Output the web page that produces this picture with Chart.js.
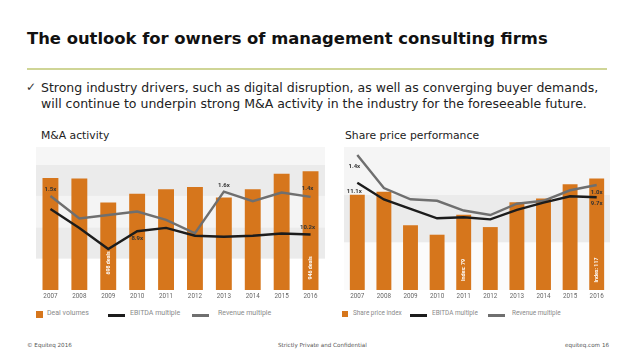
<!DOCTYPE html>
<html><head><meta charset="utf-8">
<script src="https://cdn.jsdelivr.net/npm/chart.js@4"></script>
<style>
html,body{margin:0;padding:0;}
body{width:638px;height:359px;background:#fff;position:relative;overflow:hidden;font-family:"DejaVu Sans",Verdana,sans-serif;}
.abs{position:absolute;white-space:nowrap;}
#title{left:27px;top:29px;font-weight:bold;font-size:16.4px;color:#111;}
#rule{left:27px;top:68px;width:580px;height:2px;background:#cfd596;}
.bullet{font-size:12.5px;color:#222;left:41px;}
#check{left:26px;top:80px;font-size:12px;color:#333;}
.sub{font-size:10.8px;color:#222;top:129px;}
.leg{font-family:Roboto,sans-serif;color:#8a8a8a;top:309px;}
.sq{position:absolute;background:#d6761c;}
.ln{position:absolute;height:2.5px;}
.foot{font-size:5.6px;color:#555;top:342px;}
</style></head>
<body>
<div class="abs" id="title">The outlook for owners of management consulting firms</div>
<div class="abs" id="rule"></div>
<div class="abs" id="check">✓</div>
<div class="abs bullet" style="top:80px">Strong industry drivers, such as digital disruption, as well as converging buyer demands,</div>
<div class="abs bullet" style="top:96px">will continue to underpin strong M&amp;A activity in the industry for the foreseeable future.</div>
<div class="abs sub" style="left:41px">M&amp;A activity</div>
<div class="abs sub" style="left:345px">Share price performance</div>

<div class="abs" style="left:36px;top:147px;"><canvas id="c1" width="289" height="155"></canvas></div>
<div class="abs" style="left:344px;top:147px;"><canvas id="c2" width="266" height="155"></canvas></div>

<div class="abs leg" style="left:0;width:638px;height:12px;">
  <div class="sq" style="left:36px;top:2px;width:7px;height:7px;"></div>
  <div class="abs" style="left:47px;top:0;font-size:7px;">Deal volumes</div>
  <div class="ln" style="left:108px;top:5px;width:17px;background:#1c1c1c;"></div>
  <div class="abs" style="left:130px;top:0;font-size:7px;">EBITDA multiple</div>
  <div class="ln" style="left:192px;top:5px;width:17px;background:#6f6f6f;"></div>
  <div class="abs" style="left:218px;top:0;font-size:7px;">Revenue multiple</div>

  <div class="sq" style="left:342px;top:2px;width:6px;height:6px;"></div>
  <div class="abs" style="left:353px;top:0;font-size:6.4px;">Share price index</div>
  <div class="ln" style="left:410px;top:5px;width:17px;background:#1c1c1c;"></div>
  <div class="abs" style="left:432px;top:0;font-size:6.4px;">EBITDA multiple</div>
  <div class="ln" style="left:488px;top:5px;width:17px;background:#6f6f6f;"></div>
  <div class="abs" style="left:512px;top:0;font-size:6.4px;">Revenue multiple</div>
</div>

<div class="abs foot" style="left:27px;">© Equiteq 2016</div>
<div class="abs foot" style="left:278px;">Strictly Private and Confidential</div>
<div class="abs foot" style="left:565px;">equiteq.com</div>
<div class="abs foot" style="left:602px;">16</div>

<script>
// ---- Data ----
const years = ['2007','2008','2009','2010','2011','2012','2013','2014','2015','2016'];

const dealVolumes = [893, 888, 698, 768, 803, 821, 737, 803, 927, 946];
const maEbitda    = [12.5, 10.8, 8.9, 10.5, 10.8, 10.1, 10.0, 10.1, 10.3, 10.2];
const maRevenue   = [1.50, 0.98, 1.06, 1.14, 0.95, 0.64, 1.60, 1.38, 1.58, 1.48];

const shareIndex  = [100, 103, 68, 58, 79, 66, 92, 96, 111, 117];
const spEbitda    = [11.1, 9.5, 8.6, 7.7, 7.8, 7.6, 8.5, 9.2, 9.8, 9.7];
const spRevenue   = [1.40, 0.96, 0.81, 0.79, 0.66, 0.60, 0.75, 0.79, 0.93, 1.00];

const maRevenueLabels = ['1.5x', '', '', '', '', '', '1.6x', '', '', '1.4x'];
const maEbitdaLabels  = ['', '', '8.9x', '', '', '', '', '', '', '10.2x'];
const maBarLabels     = ['', '', '698 deals', '', '', '', '', '', '', '946 deals'];
const spRevenueLabels = ['1.4x', '', '', '', '', '', '', '', '', '1.0x'];
const spEbitdaLabels  = ['11.1x', '', '', '', '', '', '', '', '', '9.7x'];
const spBarLabels     = ['', '', '', '', 'Index: 79', '', '', '', '', 'Index: 117'];

// ---- Styles ----
const ORANGE = '#d6761c', BLACK = '#1c1c1c', GREY = '#6f6f6f';

const bandPlugin = {
  id: 'bands',
  beforeDatasetsDraw(chart, args, opts) {
    const {ctx, chartArea: a} = chart;
    const y = chart.scales.y;
    ctx.save();
    opts.bands.forEach(b => {
      const top = Math.max(a.top, y.getPixelForValue(b[1]));
      const bot = y.getPixelForValue(b[0]);
      ctx.fillStyle = b[2];
      ctx.fillRect(a.left, top, a.right - a.left, bot - top);
    });
    ctx.restore();
  }
};

const labelPlugin = {
  id: 'vlabels',
  afterDatasetsDraw(chart, args, opts) {
    const ctx = chart.ctx;
    ctx.save();
    opts.items.forEach(it => {
      const meta = chart.getDatasetMeta(it.ds);
      it.texts.forEach((t, i) => {
        if (!t) return;
        const el = meta.data[i];
        const o = (it.offsets && it.offsets[i]) || [0, 0];
        ctx.font = it.font;
        ctx.fillStyle = it.color;
        ctx.textAlign = 'center';
        ctx.textBaseline = 'middle';
        if (it.vertical) {
          ctx.save();
          ctx.translate(el.x + o[0], el.base + o[1]);
          ctx.rotate(-Math.PI / 2);
          ctx.fillText(t, 0, 0);
          ctx.restore();
        } else {
          ctx.fillText(t, el.x + o[0], el.y + o[1]);
        }
      });
    });
    ctx.restore();
  }
};

function makeChart(id, barLabel, bars, ebitda, revenue, yMax, eRange, rRange, bands, barPct, labelItems) {
  return new Chart(document.getElementById(id), {
    type: 'bar',
    data: {
      labels: years,
      datasets: [
        {type: 'line', label: 'EBITDA multiple', data: ebitda, yAxisID: 'yE', borderColor: BLACK,
         borderWidth: 2.4, pointRadius: 0, tension: 0, order: 1},
        {type: 'line', label: 'Revenue multiple', data: revenue, yAxisID: 'yR', borderColor: GREY,
         borderWidth: 2.4, pointRadius: 0, tension: 0, order: 2},
        {type: 'bar', label: barLabel, data: bars, yAxisID: 'y', backgroundColor: ORANGE,
         barPercentage: barPct, categoryPercentage: 1, order: 3}
      ]
    },
    options: {
      responsive: false,
      animation: false,
      layout: {padding: 0},
      plugins: {
        legend: {display: false},
        tooltip: {enabled: false},
        bands: {bands},
        vlabels: {items: labelItems}
      },
      scales: {
        x: {
          grid: {display: false, drawTicks: false},
          border: {display: false},
          ticks: {color: '#666', font: {family: 'Roboto', size: 6.3}, padding: 3, maxRotation: 0, autoSkip: false},
          afterFit: s => { s.height = 12; }
        },
        y: {display: false, min: 0, max: yMax},
        yE: {display: false, min: eRange[0], max: eRange[1]},
        yR: {display: false, min: rRange[0], max: rRange[1]}
      }
    },
    plugins: [bandPlugin, labelPlugin]
  });
}

const LBL = 'bold 6px Roboto';
const VLBL = 'bold 5.3px Roboto';

makeChart('c1', 'Deal volumes', dealVolumes, maEbitda, maRevenue, 1140, [5.2, 18.1], [-0.67, 2.63],
  [[0, 250, '#ffffff'], [250, 500, '#ebebeb'], [500, 750, '#f4f4f4'], [750, 1000, '#ebebeb'], [1000, 1140, '#f6f6f6']],
  0.55,
  [
    {ds: 1, texts: maRevenueLabels, font: LBL, color: '#333',
     offsets: {0: [0, -6], 6: [0, -6], 9: [-3, -8]}},
    {ds: 0, texts: maEbitdaLabels, font: LBL, color: '#333',
     offsets: {2: [29, -10], 9: [-3, -7]}},
    {ds: 2, texts: maBarLabels, font: VLBL, color: '#fff', vertical: true,
     offsets: {2: [0, -27], 9: [0, -22]}}
  ]);

makeChart('c2', 'Share price index', shareIndex, spEbitda, spRevenue, 150, [0.86, 14.5], [-0.4, 1.507],
  [[0, 50, '#fbfbfb'], [50, 100, '#ebebeb'], [100, 150, '#f5f5f5']],
  0.56,
  [
    {ds: 1, texts: spRevenueLabels, font: LBL, color: '#333',
     offsets: {0: [-3, 11], 9: [0, 7]}},
    {ds: 0, texts: spEbitdaLabels, font: LBL, color: '#333',
     offsets: {0: [-3, 9], 9: [0, 6]}},
    {ds: 2, texts: spBarLabels, font: VLBL, color: '#fff', vertical: true,
     offsets: {4: [0, -20], 9: [0, -20]}}
  ]);
</script>
</body></html>
